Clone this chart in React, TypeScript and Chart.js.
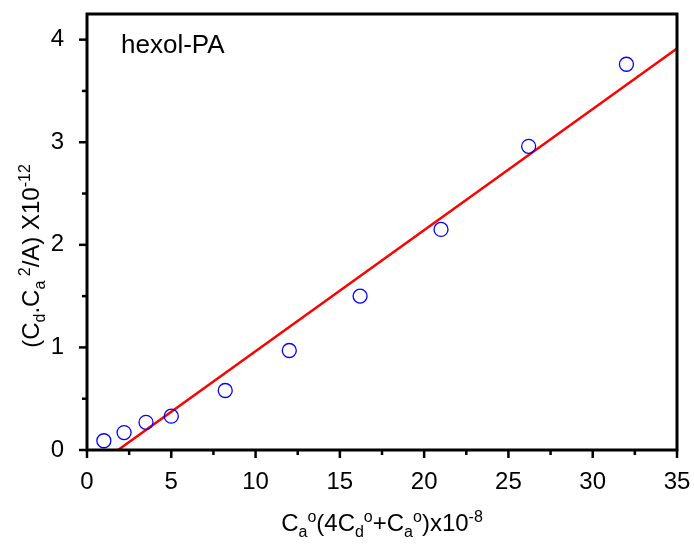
import React, { useEffect, useRef } from "react";
import { Chart, registerables } from "chart.js";

Chart.register(...registerables);

const xValues = [1.0, 2.2, 3.5, 5.0, 8.2, 12.0, 16.2, 21.0, 26.2, 32.0];
const yValues = [0.09, 0.17, 0.27, 0.33, 0.58, 0.97, 1.5, 2.15, 2.96, 3.76];
const fitX = [1.84, 35];
const fitY = [0, 3.914];
const xTicks = [0, 5, 10, 15, 20, 25, 30, 35];
const yTicks = [0, 1, 2, 3, 4];
const label = "hexol-PA";

type Seg = { t: string; k: "n" | "b" | "p" };
const xTitle: Seg[] = [
  { t: "C", k: "n" }, { t: "a", k: "b" }, { t: "o", k: "p" },
  { t: "(4C", k: "n" }, { t: "d", k: "b" }, { t: "o", k: "p" },
  { t: "+C", k: "n" }, { t: "a", k: "b" }, { t: "o", k: "p" },
  { t: ")x10", k: "n" }, { t: "-8", k: "p" },
];
const yTitle: Seg[] = [
  { t: "(C", k: "n" }, { t: "d", k: "b" }, { t: ".C", k: "n" },
  { t: "a", k: "b" }, { t: " 2", k: "p" }, { t: "/A) X10", k: "n" },
  { t: "-12", k: "p" },
];

const FONT = "Arial, 'Liberation Sans', sans-serif";

function segFont(k: string, main: number, small: number) {
  return `${k === "n" ? main : small}px ${FONT}`;
}
function measure(ctx: CanvasRenderingContext2D, segs: Seg[], main: number, small: number) {
  let w = 0;
  for (const s of segs) {
    ctx.font = segFont(s.k, main, small);
    w += ctx.measureText(s.t).width;
  }
  return w;
}
function drawRich(
  ctx: CanvasRenderingContext2D,
  segs: Seg[],
  x: number,
  y: number,
  main: number,
  small: number
) {
  let cx = x;
  ctx.textBaseline = "alphabetic";
  ctx.textAlign = "left";
  for (const s of segs) {
    ctx.font = segFont(s.k, main, small);
    const dy = s.k === "b" ? 6 : s.k === "p" ? -9 : 0;
    ctx.fillText(s.t, cx, y + dy);
    cx += ctx.measureText(s.t).width;
  }
}

const framePlugin = {
  id: "frame",
  afterDraw(chart: any) {
    const ctx: CanvasRenderingContext2D = chart.ctx;
    const { left, right, top, bottom } = chart.chartArea;
    const xs = chart.scales.x;
    const ys = chart.scales.y;
    ctx.save();
    ctx.strokeStyle = "#000";
    ctx.lineWidth = 3;
    ctx.strokeRect(left, top, right - left, bottom - top);
    ctx.lineWidth = 2.5;
    for (let v = 0; v <= 35.001; v += 2.5) {
      const px = xs.getPixelForValue(v);
      const major = Math.abs(v / 5 - Math.round(v / 5)) < 1e-6;
      ctx.beginPath();
      ctx.moveTo(px, bottom);
      ctx.lineTo(px, bottom + (major ? 8 : 5));
      ctx.stroke();
    }
    for (let v = 0; v <= 4.001; v += 0.5) {
      const py = ys.getPixelForValue(v);
      const major = Math.abs(v - Math.round(v)) < 1e-6;
      ctx.beginPath();
      ctx.moveTo(left, py);
      ctx.lineTo(left - (major ? 8 : 5), py);
      ctx.stroke();
    }
    ctx.fillStyle = "#000";
    ctx.font = `26px ${FONT}`;
    ctx.textBaseline = "alphabetic";
    ctx.textAlign = "left";
    ctx.fillText(label, 121, 53);
    const wx = measure(ctx, xTitle, 24, 16);
    drawRich(ctx, xTitle, (left + right) / 2 - wx / 2, 531, 24, 16);
    const wy = measure(ctx, yTitle, 24, 16);
    ctx.translate(39, 256);
    ctx.rotate(-Math.PI / 2);
    drawRich(ctx, yTitle, -wy / 2, 0, 24, 16);
    ctx.restore();
  },
};

export default function App() {
  const ref = useRef<HTMLCanvasElement>(null);
  useEffect(() => {
    if (!ref.current) return;
    const chart = new Chart(ref.current, {
      type: "scatter",
      data: {
        datasets: [
          {
            data: xValues.map((x, i) => ({ x, y: yValues[i] })),
            pointStyle: "circle",
            pointRadius: 7,
            pointBorderWidth: 1.3,
            borderColor: "#0000ff",
            pointBorderColor: "#0000ff",
            backgroundColor: "rgba(0,0,0,0)",
            pointBackgroundColor: "rgba(0,0,0,0)",
            showLine: false,
          },
          {
            data: fitX.map((x, i) => ({ x, y: fitY[i] })),
            showLine: true,
            borderColor: "#ff0000",
            borderWidth: 2.5,
            pointRadius: 0,
            fill: false,
          },
        ],
      },
      options: {
        responsive: false,
        animation: false,
        layout: { padding: { top: 14, right: 17, left: 0, bottom: 0 } },
        plugins: { legend: { display: false }, tooltip: { enabled: false } },
        scales: {
          x: {
            type: "linear",
            min: 0,
            max: 35,
            afterBuildTicks: (s: any) => {
              s.ticks = xTicks.map((v) => ({ value: v }));
            },
            afterFit: (s: any) => {
              s.height = 95;
              s.paddingLeft = 0;
              s.paddingRight = 0;
            },
            ticks: {
              color: "#000",
              font: { family: FONT, size: 24 },
              padding: 10,
              maxRotation: 0,
              autoSkip: false,
            },
            grid: { display: false },
            border: { display: false },
          },
          y: {
            type: "linear",
            min: 0,
            max: 4.25,
            afterBuildTicks: (s: any) => {
              s.ticks = yTicks.map((v) => ({ value: v }));
            },
            afterFit: (s: any) => {
              s.width = 87;
              s.paddingTop = 0;
              s.paddingBottom = 0;
            },
            ticks: {
              color: "#000",
              font: { family: FONT, size: 24 },
              padding: 15,
              autoSkip: false,
            },
            grid: { display: false },
            border: { display: false },
          },
        },
      },
      plugins: [framePlugin],
    } as any);
    return () => chart.destroy();
  }, []);
  return (
    <div style={{ position: "absolute", left: 0, top: 0, width: 694, height: 545 }}>
      <canvas ref={ref} width={694} height={545} />
    </div>
  );
}
